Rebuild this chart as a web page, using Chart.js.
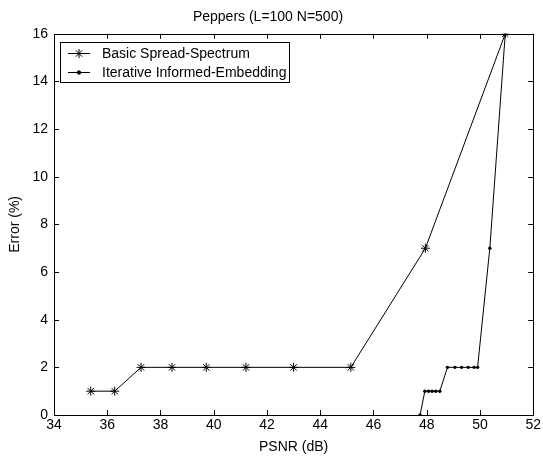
<!DOCTYPE html>
<html>
<head>
<meta charset="utf-8">
<script src="https://cdn.jsdelivr.net/npm/chart.js@4/dist/chart.umd.min.js"></script>
<style>
  html, body { margin: 0; padding: 0; background: #fff; }
  #wrap { width: 543px; height: 457px; position: relative; }
</style>
</head>
<body>
<div id="wrap"><canvas id="chartPsnr"></canvas></div>
<script>
// values
const basicPsnr = [35.38, 36.28, 37.27, 38.43, 39.72, 41.21, 43.0, 45.15, 47.95, 50.95];
const basicError = [1, 1, 2, 2, 2, 2, 2, 2, 7, 16];

const iterPsnr = [47.75, 47.93, 48.07, 48.2, 48.34, 48.49, 48.78, 49.06, 49.31, 49.56, 49.78, 49.91, 50.37, 50.95];
const iterError = [0, 1, 1, 1, 1, 1, 2, 2, 2, 2, 2, 2, 7, 16];

const xTicks = [34, 36, 38, 40, 42, 44, 46, 48, 50, 52];
const yTicks = [0, 2, 4, 6, 8, 10, 12, 14, 16];

const seriesNames = ["Basic Spread-Spectrum", "Iterative Informed-Embedding"];

const fontFamily = "'Liberation Sans', Arial, sans-serif";
const fontSize = 14;

const toPoints = (xs, ys) => xs.map((x, i) => ({ x: x, y: ys[i] }));

// box round the axes plus inward ticks on all four sides (matlab style)
const axesBoxPlugin = {
  id: "axesBox",
  afterDraw: (chart) => {
    const { ctx, chartArea: a, scales } = chart;
    const len = 5;
    ctx.save();
    ctx.strokeStyle = "#000";
    ctx.lineWidth = 1;
    ctx.strokeRect(Math.round(a.left) + 0.5, Math.round(a.top) + 0.5,
      Math.round(a.right - a.left), Math.round(a.bottom - a.top));
    ctx.beginPath();
    xTicks.forEach((v) => {
      const px = Math.round(scales.x.getPixelForValue(v)) + 0.5;
      ctx.moveTo(px, a.bottom); ctx.lineTo(px, a.bottom - len);
      ctx.moveTo(px, a.top); ctx.lineTo(px, a.top + len);
    });
    yTicks.forEach((v) => {
      const py = Math.round(scales.y.getPixelForValue(v)) + 0.5;
      ctx.moveTo(a.left, py); ctx.lineTo(a.left + len, py);
      ctx.moveTo(a.right, py); ctx.lineTo(a.right - len, py);
    });
    ctx.stroke();
    ctx.restore();
  },
};

// legend box in the upper left corner of the axes
const boxLegendPlugin = {
  id: "boxLegend",
  afterDraw: (chart) => {
    const { ctx, chartArea: a } = chart;
    const left = Math.round(a.left) + 6;
    const top = Math.round(a.top) + 8;
    const rowH = 19;
    ctx.save();
    ctx.font = `${fontSize}px ${fontFamily}`;
    const textW = Math.max(...seriesNames.map((s) => ctx.measureText(s).width));
    const w = Math.round(42 + textW + 3);
    const h = rowH * seriesNames.length + 2;
    ctx.fillStyle = "#fff";
    ctx.fillRect(left, top, w, h);
    ctx.strokeStyle = "#000";
    ctx.lineWidth = 1;
    ctx.strokeRect(left + 0.5, top + 0.5, w, h);
    chart.data.datasets.forEach((ds, i) => {
      const y = top + 11.5 + i * rowH;
      ctx.beginPath();
      ctx.moveTo(left + 8, y);
      ctx.lineTo(left + 30, y);
      ctx.strokeStyle = "#000";
      ctx.stroke();
      Chart.helpers.drawPoint(ctx, {
        pointStyle: ds.pointStyle,
        radius: ds.pointRadius,
        borderWidth: 1,
      }, left + 19, y);
      ctx.fillStyle = "#000";
      ctx.textBaseline = "middle";
      ctx.fillText(ds.label, left + 42, y + 1);
    });
    ctx.restore();
  },
};

const chartPsnr = new Chart(document.querySelector("#chartPsnr"), {
  type: "line",
  data: {
    datasets: [
      {
        label: seriesNames[0],
        data: toPoints(basicPsnr, basicError),
        borderColor: "#000",
        backgroundColor: "#000",
        borderWidth: 1,
        pointStyle: "star",
        pointRadius: 4.5,
        pointBorderWidth: 1,
        pointBorderColor: "#000",
      },
      {
        label: seriesNames[1],
        data: toPoints(iterPsnr, iterError),
        borderColor: "#000",
        backgroundColor: "#000",
        borderWidth: 1,
        pointStyle: "circle",
        pointRadius: 1.7,
        pointBorderWidth: 0,
        pointBackgroundColor: "#000",
      },
    ],
  },
  options: {
    responsive: true,
    maintainAspectRatio: false,
    animation: false,
    events: [],
    layout: { padding: { top: 0, right: 7, bottom: 0, left: 0 } },
    plugins: {
      legend: { display: false },
      tooltip: { enabled: false },
      title: {
        display: true,
        text: "Peppers (L=100 N=500)",
        color: "#000",
        font: { family: fontFamily, size: fontSize, weight: "normal" },
        padding: { top: 8.5, bottom: 8.5 },
      },
    },
    scales: {
      x: {
        type: "linear",
        min: 34,
        max: 52,
        afterBuildTicks: (scale) => { scale.ticks = xTicks.map((v) => ({ value: v })); },
        afterFit: (scale) => { scale.height = 42; },
        grid: { display: false, drawTicks: false },
        border: { display: false },
        ticks: {
          color: "#000",
          padding: 2,
          maxRotation: 0,
          font: { family: fontFamily, size: fontSize },
        },
        title: {
          display: true,
          text: "PSNR (dB)",
          color: "#000",
          font: { family: fontFamily, size: fontSize },
          padding: { top: 0, bottom: 1.6 },
        },
      },
      y: {
        type: "linear",
        min: 0,
        max: 16,
        afterBuildTicks: (scale) => { scale.ticks = yTicks.map((v) => ({ value: v })); },
        afterFit: (scale) => { scale.width = 54; },
        grid: { display: false, drawTicks: false },
        border: { display: false },
        ticks: {
          color: "#000",
          padding: 6,
          font: { family: fontFamily, size: fontSize },
        },
        title: {
          display: true,
          text: "Error (%)",
          color: "#000",
          font: { family: fontFamily, size: fontSize },
          padding: { top: 6.6, bottom: 0 },
        },
      },
    },
  },
  plugins: [axesBoxPlugin, boxLegendPlugin],
});
</script>
</body>
</html>
